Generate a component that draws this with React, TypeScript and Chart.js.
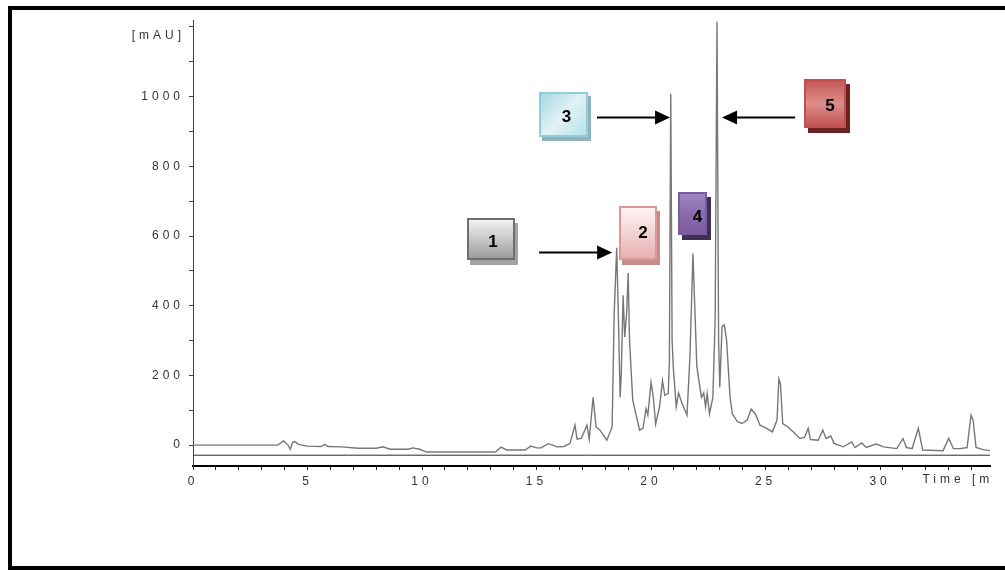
import { useEffect, useRef } from 'react';
import { Chart, registerables } from 'chart.js';

Chart.register(...registerables);

// Chromatogram trace (time in min, absorbance in mAU)
const times = [
  0, 3.7, 3.95, 4.15, 4.25, 4.35, 4.45, 4.6, 5.0, 5.6, 5.75, 5.9, 6.5, 7.2, 8.0, 8.3, 8.6, 9.4, 9.6, 9.9,
  10.2, 13.2, 13.45, 13.7, 14.5, 14.75, 15.0, 15.2, 15.5, 15.7, 15.9, 16.2, 16.46, 16.68, 16.77, 16.96,
  17.2, 17.3, 17.47, 17.6, 17.77, 18.07, 18.3, 18.39, 18.5, 18.57, 18.65, 18.7, 18.78, 18.85, 18.94, 19.0,
  19.06, 19.2, 19.5, 19.65, 19.78, 19.86, 20.0, 20.1, 20.2, 20.37, 20.5, 20.6, 20.75, 20.8, 20.86, 20.92,
  20.97, 21.1, 21.2, 21.35, 21.57, 21.7, 21.77, 21.83, 21.9, 22.0, 22.1, 22.2, 22.3, 22.38, 22.45, 22.55,
  22.7, 22.8, 22.88, 22.95, 23.0, 23.1, 23.2, 23.3, 23.45, 23.55, 23.77, 23.97, 24.2, 24.37, 24.55, 24.76,
  25.05, 25.3, 25.5, 25.58, 25.65, 25.75, 25.98, 26.2, 26.5, 26.7, 26.86, 26.96, 27.3, 27.5, 27.64, 27.85,
  27.99, 28.4, 28.76, 28.9, 29.2, 29.4, 29.83, 30.15, 30.73, 31.0, 31.15, 31.4, 31.67, 31.86, 32.75, 33.0,
  33.2, 33.5, 33.8, 33.97, 34.06, 34.19, 34.5, 34.8,
];
const signal = [
  0, 0, 12, 0, -12, 8, 10, 2, -3, -4, 2, -4, -5, -9, -9, -5, -12, -12, -8, -12,
  -20, -20, -6, -14, -14, -3, -8, -8, 4, 0, -5, -4, 5, 57, 17, 20,
  57, 17, 137, 52, 43, 14, 52, 375, 566, 380, 137, 203, 430, 310, 385, 494,
  300, 130, 43, 48, 105, 86, 180, 137, 60, 110, 185, 143, 148, 235, 1008, 300,
  225, 110, 150, 120, 86, 257, 415, 550, 415, 225, 180, 137, 150, 110, 148, 90,
  137, 365, 1215, 300, 166, 340, 345, 300, 137, 90, 67, 62, 72, 103, 90, 57,
  48, 38, 72, 190, 176, 62, 52, 38, 19, 22, 48, 16, 14, 43, 19, 26,
  5, -5, 9, -7, 6, -7, 3, -5, -10, 19, -7, -10, 48, -14, -16, 19,
  -10, -10, -7, 86, 72, -7, -13, -16,
];

// Flat reference trace below the chromatogram
const refTimes = [0, 34.8];
const refSignal = [-29, -29];

// Axis ticks
const yTickValues = [0, 100, 200, 300, 400, 500, 600, 700, 800, 900, 1000, 1100, 1200];
const yTickLabels = ['0', '', '200', '', '400', '', '600', '', '800', '', '1000', '', ''];
const xTickValues = [
  0, 1, 2, 3, 4, 5, 6, 7, 8, 9, 10, 11, 12, 13, 14, 15, 16, 17, 18, 19, 20, 21, 22, 23, 24, 25, 26, 27, 28,
  29, 30, 31, 32, 33, 34,
];
const xTickLabels = xTickValues.map((v) => (v % 5 === 0 && v <= 30 ? String(v) : ''));
const yUnitLabel = '[mAU]';
const xUnitLabel = 'Time [m';

// Peak annotation boxes
const boxLabels = ['1', '2', '3', '4', '5'];

const LETTER = '4px';
const AXIS_FONT = "12px 'Liberation Sans', Arial, sans-serif";

type BoxStyle = {
  t: number; v: number; w: number; h: number; dx: number; dy: number;
  sx: number; sy: number; shadow: string; border: string; stops: [number, string][]; diagonal?: boolean;
};

const boxStyles: BoxStyle[] = [
  { t: 11.96, v: 652, w: 48, h: 42, dx: 2, dy: 3, sx: 3, sy: 5, shadow: '#a3a3a3', border: '#6f6f6f',
    stops: [[0, '#f6f6f6'], [0.5, '#c8c8c8'], [1, '#979797']] },
  { t: 18.6, v: 686, w: 38, h: 54, dx: 5, dy: 0, sx: 3, sy: 5, shadow: '#c68b8b', border: '#da9896',
    stops: [[0, '#fff7f7'], [0.5, '#f3d3d3'], [1, '#e6adad']] },
  { t: 15.11, v: 1013, w: 49, h: 45, dx: 3, dy: 3, sx: 3, sy: 4, shadow: '#8fb2bc', border: '#92cddc',
    stops: [[0, '#9fd5e2'], [0.5, '#e2f2f6'], [1, '#b3dfe9']], diagonal: true },
  { t: 21.18, v: 726, w: 29, h: 43, dx: 5, dy: 4, sx: 4, sy: 5, shadow: '#3f3151', border: '#7a5c9f',
    stops: [[0, '#a389c4'], [0.5, '#8a6cae'], [1, '#7a5c9e']] },
  { t: 26.68, v: 1051, w: 42, h: 49, dx: 5, dy: 3, sx: 4, sy: 5, shadow: '#6a2220', border: '#c3504f',
    stops: [[0, '#c45452'], [0.5, '#dc8e8c'], [1, '#c0504d']] },
];

const arrowStyles = [
  { fromT: 15.11, toT: 18.3, v: 554 },
  { fromT: 17.64, toT: 20.83, v: 942 },
  { fromT: 26.29, toT: 23.1, v: 942 },
];

const decorPlugin = {
  id: 'decor',
  beforeDraw(chart: any) {
    const ctx = chart.ctx;
    ctx.save();
    ctx.fillStyle = '#ffffff';
    ctx.fillRect(0, 0, chart.width, chart.height);
    ctx.restore();
    ctx.letterSpacing = LETTER;
  },
  beforeDatasetsDraw(chart: any) {
    chart.ctx.letterSpacing = '0px';
  },
  afterDraw(chart: any) {
    const ctx = chart.ctx;
    const xs = chart.scales.x;
    const ys = chart.scales.y;
    ctx.save();
    // frame
    ctx.fillStyle = '#000000';
    ctx.fillRect(8, 6, 997, 4);
    ctx.fillRect(8, 6, 4, 564);
    ctx.fillRect(8, 566, 997, 4);

    // unit labels
    ctx.letterSpacing = LETTER;
    ctx.font = AXIS_FONT;
    ctx.fillStyle = '#333333';
    ctx.textBaseline = 'middle';
    ctx.textAlign = 'right';
    ctx.fillText(yUnitLabel, ys.right - 8, 36);
    ctx.textAlign = 'left';
    ctx.fillText(xUnitLabel, xs.getPixelForValue(31.85), 480);
    ctx.letterSpacing = '0px';

    // arrows
    ctx.strokeStyle = '#000000';
    ctx.fillStyle = '#000000';
    ctx.lineWidth = 1.8;
    arrowStyles.forEach((a) => {
      const x0 = xs.getPixelForValue(a.fromT);
      const x1 = xs.getPixelForValue(a.toT);
      const y = Math.round(ys.getPixelForValue(a.v)) + 0.5;
      const dir = x1 > x0 ? 1 : -1;
      const headLen = 15;
      ctx.beginPath();
      ctx.moveTo(x0, y);
      ctx.lineTo(x1 - dir * headLen, y);
      ctx.stroke();
      ctx.beginPath();
      ctx.moveTo(x1, y);
      ctx.lineTo(x1 - dir * headLen, y - 7);
      ctx.lineTo(x1 - dir * headLen, y + 7);
      ctx.closePath();
      ctx.fill();
    });

    // boxes
    boxStyles.forEach((b, i) => {
      const x = Math.round(xs.getPixelForValue(b.t));
      const y = Math.round(ys.getPixelForValue(b.v));
      ctx.fillStyle = b.shadow;
      ctx.fillRect(x + b.sx, y + b.sy, b.w, b.h);
      const g = b.diagonal
        ? ctx.createLinearGradient(x, y, x + b.w, y + b.h)
        : ctx.createLinearGradient(x, y, x, y + b.h);
      b.stops.forEach(([o, c]) => g.addColorStop(o, c));
      ctx.fillStyle = g;
      ctx.fillRect(x, y, b.w, b.h);
      ctx.strokeStyle = b.border;
      ctx.lineWidth = 2;
      ctx.strokeRect(x + 1, y + 1, b.w - 2, b.h - 2);
      ctx.fillStyle = '#000000';
      ctx.font = "bold 17px 'Liberation Sans', Arial, sans-serif";
      ctx.textAlign = 'center';
      ctx.textBaseline = 'middle';
      ctx.fillText(boxLabels[i], x + b.w / 2 + b.dx, y + b.h / 2 + b.dy);
    });
    ctx.restore();
  },
};

export default function App() {
  const canvasRef = useRef<HTMLCanvasElement | null>(null);

  useEffect(() => {
    const canvas = canvasRef.current;
    if (!canvas) return;
    const chart = new Chart(canvas, {
      type: 'line',
      data: {
        datasets: [
          {
            label: 'Chromatogram',
            data: times.map((t, i) => ({ x: t, y: signal[i] })),
            borderColor: '#777777',
            borderWidth: 1.4,
            pointRadius: 0,
            tension: 0,
            fill: false,
            clip: false as any,
          },
          {
            label: 'Reference',
            data: refTimes.map((t, i) => ({ x: t, y: refSignal[i] })),
            borderColor: '#2a2a2a',
            borderWidth: 1,
            pointRadius: 0,
            tension: 0,
            fill: false,
          },
        ],
      },
      plugins: [decorPlugin],
      options: {
        animation: false,
        responsive: false,
        events: [],
        layout: { padding: { left: 0, right: 15, top: 20, bottom: 64 } },
        plugins: { legend: { display: false }, tooltip: { enabled: false } },
        scales: {
          x: {
            type: 'linear',
            min: 0,
            max: 34.8,
            afterFit: (s: any) => { s.height = 40; },
            afterBuildTicks: (s: any) => { s.ticks = xTickValues.map((v) => ({ value: v })); },
            border: { display: true, color: '#000000', width: 2 },
            grid: { display: true, drawOnChartArea: false, drawTicks: true, tickLength: 4, color: '#222222', lineWidth: 1 },
            ticks: {
              autoSkip: false,
              maxRotation: 0,
              padding: 4,
              color: '#333333',
              font: { family: "'Liberation Sans', Arial, sans-serif", size: 12 },
              callback: (v: any) => xTickLabels[xTickValues.indexOf(Number(v))] ?? '',
            },
          },
          y: {
            type: 'linear',
            min: -60,
            max: 1220,
            afterFit: (s: any) => { s.width = 193; },
            afterBuildTicks: (s: any) => { s.ticks = yTickValues.map((v) => ({ value: v })); },
            border: { display: true, color: '#444444', width: 1 },
            grid: { display: true, drawOnChartArea: false, drawTicks: true, tickLength: 4, color: '#444444', lineWidth: 1 },
            ticks: {
              autoSkip: false,
              padding: 5,
              color: '#333333',
              font: { family: "'Liberation Sans', Arial, sans-serif", size: 12 },
              callback: (v: any) => yTickLabels[yTickValues.indexOf(Number(v))] ?? '',
            },
          },
        },
      },
    });
    return () => chart.destroy();
  }, []);

  return (
    <div style={{ position: 'fixed', left: 0, top: 0, width: 1005, height: 570, background: '#fff' }}>
      <canvas ref={canvasRef} width={1005} height={570} style={{ display: 'block', width: 1005, height: 570 }} />
    </div>
  );
}
